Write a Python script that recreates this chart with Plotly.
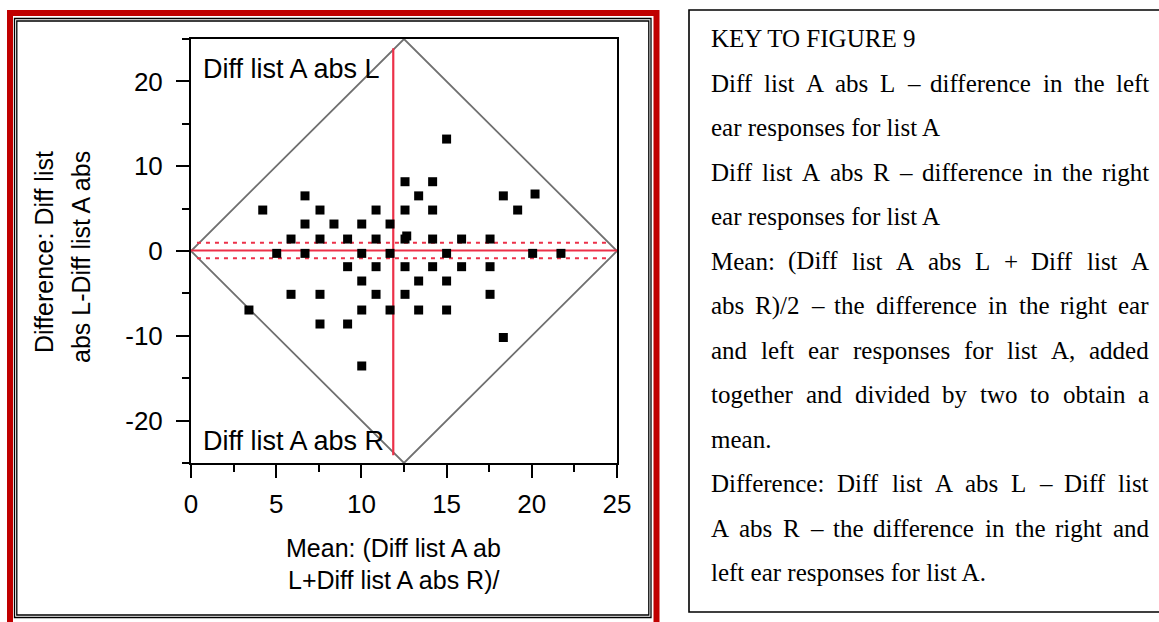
import plotly.graph_objects as go

# ---------------- data ----------------
mean_vals = [15.0,
             12.56, 14.18,
             6.69, 13.36, 18.33,
             20.19,
             4.21, 7.57, 10.86, 12.56, 14.18, 19.17,
             6.69, 8.39, 10.02, 11.68,
             12.66,
             5.87, 7.57, 9.19, 10.86, 12.56, 14.18, 15.88, 17.55,
             5.03, 6.69, 10.02, 11.68, 15.0, 20.05, 21.71,
             9.19, 10.86, 12.56, 14.18, 15.88, 17.55,
             10.02, 13.36, 15.0,
             5.87, 7.57, 10.86, 12.56, 17.55,
             3.40, 10.02, 11.68, 13.36, 15.0,
             7.57, 9.19,
             18.33,
             10.02]
diff_vals = [13.2,
             8.17, 8.17,
             6.5, 6.5, 6.5,
             6.72,
             4.83, 4.83, 4.83, 4.83, 4.83, 4.83,
             3.18, 3.18, 3.18, 3.18,
             1.77,
             1.41, 1.41, 1.41, 1.41, 1.41, 1.41, 1.41, 1.41,
             -0.28, -0.28, -0.28, -0.28, -0.28, -0.28, -0.28,
             -1.85, -1.85, -1.85, -1.85, -1.85, -1.85,
             -3.54, -3.54, -3.54,
             -5.11, -5.11, -5.11, -5.11, -5.11,
             -6.96, -6.96, -6.96, -6.96, -6.96,
             -8.61, -8.61,
             -10.2,
             -13.56]

diamond_x = [0, 12.5, 25, 12.5, 0]
diamond_y = [0, 25, 0, -25, 0]
mean_diff = 0.06
upper_lim = 0.98
lower_lim = -0.86
mean_of_means = 11.87
vline_y = [-24.1, 23.9]
hline_x = [0, 25]
dash_x = [0.35, 24.65]

x_ticks = [0, 5, 10, 15, 20, 25]
y_ticks = [-20, -10, 0, 10, 20]

x_title = ["Mean: (Diff list A ab", "L+Diff list A abs R)/"]
y_title = ["Difference: Diff list", "abs L-Diff list A abs"]
label_top = "Diff list A abs L"
label_bot = "Diff list A abs R"

key_lines = [
    ("KEY TO FIGURE 9", False),
    ("Diff list A abs L \u2013 difference in the left", True),
    ("ear responses for list A", False),
    ("Diff list A abs R \u2013 difference in the right", True),
    ("ear responses for list A", False),
    ("Mean: (Diff list A abs L + Diff list A", True),
    ("abs R)/2 \u2013 the difference in the right ear", True),
    ("and left ear responses for list A, added", True),
    ("together and divided by two to obtain a", True),
    ("mean.", False),
    ("Difference: Diff list A abs L \u2013 Diff list", True),
    ("A abs R \u2013 the difference in the right and", True),
    ("left ear responses for list A.", False),
]

# ---------------- geometry helpers ----------------
W, H = 1159, 622
PX0, PX1, PY0, PY1 = 191, 617, 39, 463


def px(x):
    return (x - PX0) / (PX1 - PX0)


def py(y):
    return (PY1 - y) / (PY1 - PY0)


RED = "#EC3048"
GREY = "#707070"
SANS = "Liberation Sans, Arial, sans-serif"
SERIF = "Liberation Serif, Times New Roman, serif"

fig = go.Figure()

# diamond
fig.add_trace(go.Scatter(x=diamond_x, y=diamond_y, mode="lines",
                         line=dict(color=GREY, width=1.8), hoverinfo="skip"))
# mean difference line and limits
fig.add_trace(go.Scatter(x=hline_x, y=[mean_diff, mean_diff], mode="lines",
                         line=dict(color=RED, width=2.2), hoverinfo="skip"))
fig.add_trace(go.Scatter(x=dash_x, y=[upper_lim, upper_lim], mode="lines",
                         line=dict(color=RED, width=2, dash="4px,5px"), hoverinfo="skip"))
fig.add_trace(go.Scatter(x=dash_x, y=[lower_lim, lower_lim], mode="lines",
                         line=dict(color=RED, width=2, dash="4px,5px"), hoverinfo="skip"))
# vertical red line
fig.add_trace(go.Scatter(x=[mean_of_means, mean_of_means], y=vline_y, mode="lines",
                         line=dict(color=RED, width=2.2), hoverinfo="skip"))
# points
fig.add_trace(go.Scatter(x=mean_vals, y=diff_vals, mode="markers",
                         marker=dict(symbol="square", size=9, color="black",
                                     line=dict(width=0))))

axis_common = dict(showgrid=False, zeroline=False, showline=True, linecolor="black",
                   linewidth=2, mirror=True, ticks="outside", ticklen=13, tickwidth=2,
                   tickcolor="black", tickfont=dict(family=SANS, size=26, color="black"))

fig.update_xaxes(range=[0, 25], tickvals=x_ticks, ticktext=[str(v) for v in x_ticks],
                 minor=dict(ticks="outside", ticklen=7, tickwidth=2, tickcolor="black", dtick=2.5,
                            tick0=0, showgrid=False),
                 ticklabelstandoff=4, **axis_common)
fig.update_yaxes(range=[-25, 25], tickvals=y_ticks, ticktext=[str(v) for v in y_ticks],
                 minor=dict(ticks="outside", ticklen=7, tickwidth=2, tickcolor="black", dtick=5,
                            tick0=0, showgrid=False),
                 ticklabelstandoff=8, **axis_common)

shapes = []
# red outer frame
shapes.append(dict(type="rect", xref="paper", yref="paper",
                   x0=px(10), x1=px(656.5), y0=py(13), y1=py(700),
                   line=dict(color="#C00000", width=6), fillcolor="rgba(0,0,0,0)", layer="below"))
# black double frame
shapes.append(dict(type="rect", xref="paper", yref="paper",
                   x0=px(14.5), x1=px(651), y0=py(18.5), y1=py(617.5),
                   line=dict(color="black", width=1.3), fillcolor="rgba(0,0,0,0)", layer="below"))
shapes.append(dict(type="rect", xref="paper", yref="paper",
                   x0=px(16.8), x1=px(648.8), y0=py(21), y1=py(615),
                   line=dict(color="black", width=1.3), fillcolor="rgba(0,0,0,0)", layer="below"))
# key box
shapes.append(dict(type="rect", xref="paper", yref="paper",
                   x0=px(689), x1=px(1170), y0=py(10), y1=py(612),
                   line=dict(color="black", width=1.6), fillcolor="rgba(0,0,0,0)", layer="below"))
fig.update_layout(shapes=shapes)

ann = []
# in-plot labels
ann.append(dict(text=label_top, xref="paper", yref="paper", x=px(202), y=py(69),
                xanchor="left", yanchor="middle", showarrow=False, borderpad=0,
                font=dict(family=SANS, size=27, color="black")))
ann.append(dict(text=label_bot, xref="paper", yref="paper", x=px(202), y=py(441),
                xanchor="left", yanchor="middle", showarrow=False, borderpad=0,
                font=dict(family=SANS, size=27, color="black")))
# x title
for i, t in enumerate(x_title):
    ann.append(dict(text=t, xref="paper", yref="paper", x=px(393), y=py(548 + 32 * i),
                    xanchor="center", yanchor="middle", showarrow=False, borderpad=0,
                    font=dict(family=SANS, size=25, color="black")))
# y title
for i, t in enumerate(y_title):
    ann.append(dict(text=t, xref="paper", yref="paper", x=px(44 + 37 * i), y=py(150),
                    xanchor="center", yanchor="top", textangle=-90, showarrow=False,
                    borderpad=0, font=dict(family=SANS, size=25, color="black")))

# key text with justification
TIMES = {' ': 250, '!': 333, '(': 333, ')': 333, '+': 564, ',': 250, '-': 333, '.': 250,
         '/': 278, ':': 278, '\u2013': 500,
         'A': 722, 'B': 667, 'C': 667, 'D': 722, 'E': 611, 'F': 556, 'G': 722, 'H': 722,
         'I': 333, 'J': 389, 'K': 722, 'L': 611, 'M': 889, 'N': 722, 'O': 722, 'P': 556,
         'Q': 722, 'R': 667, 'S': 556, 'T': 611, 'U': 722, 'V': 722, 'W': 944, 'X': 722,
         'Y': 722, 'Z': 611,
         'a': 444, 'b': 500, 'c': 444, 'd': 500, 'e': 444, 'f': 333, 'g': 500, 'h': 500,
         'i': 278, 'j': 278, 'k': 500, 'l': 278, 'm': 778, 'n': 500, 'o': 500, 'p': 500,
         'q': 500, 'r': 333, 's': 389, 't': 278, 'u': 500, 'v': 500, 'w': 722, 'x': 500,
         'y': 500, 'z': 444}


def tw(s, fs):
    return sum(TIMES.get(c, 500) for c in s) / 1000.0 * fs


KFS = 25
KX0, KX1 = 710, 1148
KB0, KSTEP = 47, 44.5
for i, (line, just) in enumerate(key_lines):
    base = KB0 + KSTEP * i
    yc = base - 0.33 * KFS
    if not just:
        ann.append(dict(text=line, xref="paper", yref="paper", x=px(KX0), y=py(yc),
                        xanchor="left", yanchor="middle", showarrow=False, borderpad=0,
                        font=dict(family=SERIF, size=KFS, color="black")))
    else:
        words = line.split(" ")
        total = sum(tw(w, KFS) for w in words)
        gap = (KX1 - KX0 - total) / (len(words) - 1)
        xcur = KX0
        for w in words:
            ann.append(dict(text=w, xref="paper", yref="paper", x=px(xcur), y=py(yc),
                            xanchor="left", yanchor="middle", showarrow=False, borderpad=0,
                            font=dict(family=SERIF, size=KFS, color="black")))
            xcur += tw(w, KFS) + gap

fig.update_layout(annotations=ann, width=W, height=H, autosize=False, showlegend=False,
                  margin=dict(l=PX0, r=W - PX1, t=PY0, b=H - PY1, pad=0),
                  paper_bgcolor="white", plot_bgcolor="white")

fig.write_html("out.html")
